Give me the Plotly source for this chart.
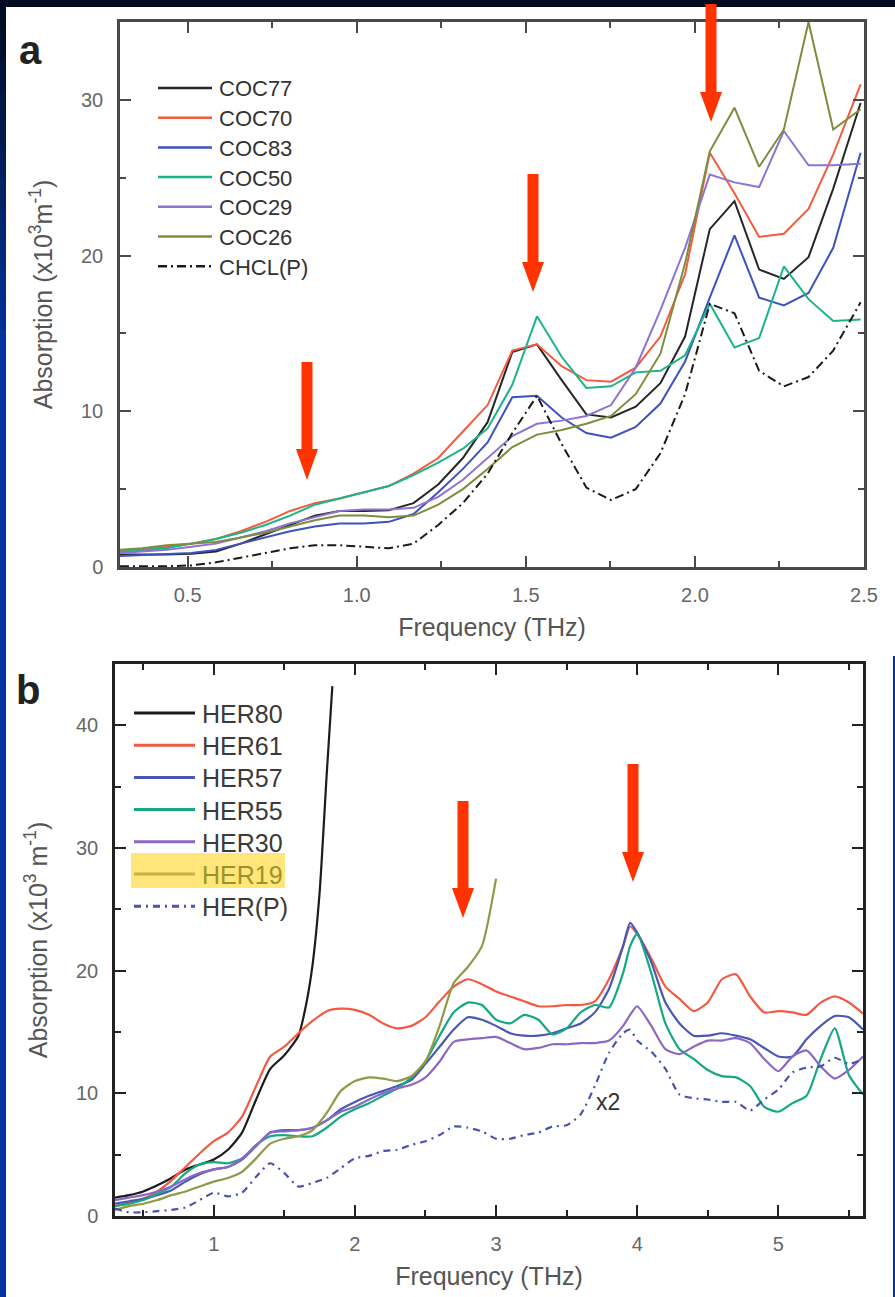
import plotly.graph_objects as go

W, H = 895, 1297

# ---------------- Panel a data ----------------
FREQ_A = [0.30, 0.365, 0.438, 0.511, 0.584, 0.657, 0.730, 0.803, 0.876, 0.949,
          1.022, 1.095, 1.168, 1.241, 1.314, 1.387, 1.460, 1.533, 1.606, 1.679,
          1.752, 1.825, 1.898, 1.971, 2.044, 2.117, 2.190, 2.263, 2.336, 2.409, 2.490]
COC77 = [0.8, 0.8, 0.8, 0.85, 1.0, 1.5, 2.1, 2.7, 3.3, 3.6,
         3.6, 3.65, 4.1, 5.3, 7.0, 9.3, 13.8, 14.3, 12.0, 9.8,
         9.6, 10.3, 11.8, 14.8, 21.7, 23.5, 19.1, 18.5, 19.9, 24.3, 29.8]
COC70 = [1.0, 1.1, 1.3, 1.5, 1.8, 2.3, 2.9, 3.6, 4.1, 4.4,
         4.8, 5.2, 6.0, 7.0, 8.7, 10.4, 13.9, 14.3, 12.9, 12.0,
         11.9, 12.8, 14.8, 18.8, 26.6, 24.0, 21.2, 21.4, 23.0, 26.5, 31.0]
COC83 = [0.7, 0.75, 0.8, 0.9, 1.1, 1.5, 1.9, 2.3, 2.6, 2.8,
         2.8, 2.9, 3.4, 4.8, 6.3, 8.0, 10.9, 11.0, 9.6, 8.6,
         8.3, 9.0, 10.5, 13.2, 17.3, 21.3, 17.3, 16.8, 17.6, 20.5, 26.6]
COC50 = [1.0, 1.1, 1.2, 1.5, 1.8, 2.2, 2.7, 3.3, 4.0, 4.4,
         4.8, 5.2, 5.9, 6.7, 7.6, 8.9, 11.7, 16.1, 13.5, 11.5,
         11.6, 12.5, 12.6, 13.6, 16.9, 14.1, 14.7, 19.3, 17.2, 15.8, 15.9]
COC29 = [0.9, 1.0, 1.1, 1.3, 1.5, 1.9, 2.3, 2.8, 3.2, 3.6,
         3.7, 3.7, 3.8, 4.5, 5.6, 7.0, 8.4, 9.2, 9.4, 9.7,
         10.4, 12.8, 16.5, 20.5, 25.2, 24.7, 24.4, 28.0, 25.8, 25.8, 25.9]
COC26 = [1.1, 1.2, 1.4, 1.5, 1.6, 1.9, 2.2, 2.6, 3.0, 3.3,
         3.3, 3.2, 3.3, 4.0, 5.0, 6.3, 7.7, 8.5, 8.8, 9.2,
         9.7, 11.1, 13.7, 19.5, 26.7, 29.5, 25.7, 28.1, 35.0, 28.1, 29.4]
CHCL_P = [0.05, 0.05, 0.05, 0.1, 0.3, 0.6, 0.9, 1.2, 1.4, 1.4,
          1.3, 1.2, 1.5, 2.7, 4.1, 6.0, 8.6, 11.0, 7.9, 5.1,
          4.3, 5.0, 7.3, 11.1, 16.9, 16.3, 12.6, 11.6, 12.2, 13.9, 17.0]

NAMES_A = ["COC77", "COC70", "COC83", "COC50", "COC29", "COC26", "CHCL(P)"]
VALUES_A = [COC77, COC70, COC83, COC50, COC29, COC26, CHCL_P]
COLORS_A = ["#262626", "#f45a3e", "#3d52bf", "#1db38a", "#8e72d4", "#7d8d3d", "#1a1a1a"]
DASH_A = ["solid"] * 6 + ["9px,4px,2px,4px"]

XTICKS_A = [0.5, 1.0, 1.5, 2.0, 2.5]
XTICKTEXT_A = ["0.5", "1.0", "1.5", "2.0", "2.5"]
YTICKS_A = [0, 10, 20, 30]

# ---------------- Panel b data ----------------
FREQ_B = [0.3, 0.4, 0.5, 0.6, 0.7, 0.8, 0.9, 1.0, 1.1, 1.2,
          1.3, 1.4, 1.5, 1.6, 1.7, 1.8, 1.9, 2.0, 2.1, 2.2,
          2.3, 2.4, 2.5, 2.6, 2.7, 2.8, 2.9, 3.0, 3.1, 3.2,
          3.3, 3.4, 3.5, 3.6, 3.7, 3.8, 3.9, 3.95, 4.0, 4.1,
          4.2, 4.3, 4.4, 4.5, 4.6, 4.7, 4.8, 4.9, 5.0, 5.1,
          5.2, 5.3, 5.4, 5.5, 5.6]
FREQ_H80 = [0.3, 0.4, 0.5, 0.6, 0.7, 0.8, 0.9, 1.0, 1.1, 1.2,
            1.3, 1.4, 1.5, 1.6, 1.65, 1.7, 1.75, 1.8, 1.84]
HER80 = [1.5, 1.7, 2.0, 2.5, 3.1, 3.8, 4.2, 4.6, 5.4, 6.8,
         9.5, 12.0, 13.1, 14.7, 17.0, 20.5, 26.4, 36.0, 43.2]
HER61 = [0.8, 1.1, 1.4, 2.0, 2.9, 4.0, 5.1, 6.1, 6.8, 8.1,
         10.6, 13.0, 13.8, 14.9, 15.9, 16.7, 16.9, 16.8, 16.4, 15.7,
         15.3, 15.5, 16.2, 17.5, 18.7, 19.3, 18.9, 18.3, 17.9, 17.5,
         17.1, 17.1, 17.2, 17.2, 17.5, 19.3, 22.0, 23.6, 23.0, 21.0,
         18.7, 17.7, 16.7, 17.4, 19.3, 19.7, 17.9, 16.6, 16.7, 16.6,
         16.4, 17.4, 17.9, 17.4, 16.5]
HER57 = [1.0, 1.2, 1.4, 1.7, 2.1, 2.8, 3.4, 3.8, 4.0, 4.6,
         5.7, 6.8, 7.0, 7.0, 7.2, 7.8, 8.7, 9.3, 9.8, 10.2,
         10.6, 11.1, 12.4, 13.8, 15.2, 16.2, 16.0, 15.5, 14.9, 14.7,
         14.7, 14.9, 15.3, 15.7, 16.6, 18.5, 22.0, 23.9, 23.1, 20.7,
         17.4, 15.7, 14.7, 14.7, 14.9, 14.7, 14.4, 13.7, 13.0, 13.0,
         14.4, 15.5, 16.3, 16.2, 15.2]
HER55 = [0.8, 1.0, 1.3, 1.8, 2.4, 3.5, 4.2, 4.4, 4.3, 4.7,
         5.8, 6.5, 6.6, 6.5, 6.5, 7.2, 8.1, 8.7, 9.2, 9.8,
         10.4, 11.3, 12.6, 14.7, 16.6, 17.4, 17.2, 16.0, 15.7, 16.4,
         16.0, 14.8, 15.3, 16.6, 17.2, 17.0, 19.8, 22.0, 23.0, 19.8,
         15.7, 13.6, 12.8, 11.9, 11.4, 11.3, 10.6, 8.9, 8.5, 9.2,
         9.8, 12.8, 15.3, 11.5, 9.9]
HER30 = [1.3, 1.5, 1.7, 2.0, 2.4, 3.0, 3.5, 3.8, 4.0, 4.7,
         5.7, 6.8, 6.9, 7.0, 7.2, 7.8, 8.5, 8.9, 9.5, 10.0,
         10.4, 10.7, 11.3, 12.6, 14.2, 14.4, 14.5, 14.6, 14.1, 13.6,
         13.7, 14.0, 14.0, 14.1, 14.1, 14.3, 15.5, 16.4, 17.1, 15.5,
         13.6, 13.2, 13.8, 14.3, 14.3, 14.5, 14.1, 12.8, 11.8, 13.0,
         13.5, 12.2, 11.2, 11.9, 13.0]
FREQ_H19 = [0.3, 0.4, 0.5, 0.6, 0.7, 0.8, 0.9, 1.0, 1.1, 1.2,
            1.3, 1.4, 1.5, 1.6, 1.7, 1.8, 1.9, 2.0, 2.1, 2.2,
            2.3, 2.4, 2.5, 2.6, 2.7, 2.8, 2.9, 3.0]
HER19 = [0.5, 0.8, 1.0, 1.3, 1.7, 2.0, 2.4, 2.8, 3.1, 3.6,
         4.7, 5.9, 6.3, 6.5, 7.0, 8.4, 10.2, 11.0, 11.3, 11.2,
         11.0, 11.4, 12.6, 15.5, 19.0, 20.3, 22.0, 27.5]
HER_P = [0.6, 0.3, 0.3, 0.4, 0.5, 0.7, 1.3, 1.9, 1.6, 1.9,
         3.2, 4.3, 3.5, 2.4, 2.7, 3.1, 3.9, 4.7, 4.9, 5.3,
         5.4, 5.8, 6.1, 6.6, 7.3, 7.2, 6.9, 6.3, 6.3, 6.6,
         6.8, 7.3, 7.4, 8.3, 10.6, 13.3, 14.9, 15.2, 14.3, 13.4,
         12.0, 9.9, 9.6, 9.5, 9.3, 9.3, 8.6, 9.5, 10.3, 11.7,
         12.1, 12.2, 12.9, 12.4, 12.8]

NAMES_B = ["HER80", "HER61", "HER57", "HER55", "HER30", "HER19", "HER(P)"]
XS_B = [FREQ_H80, FREQ_B, FREQ_B, FREQ_B, FREQ_B, FREQ_H19, FREQ_B]
VALUES_B = [HER80, HER61, HER57, HER55, HER30, HER19, HER_P]
COLORS_B = ["#1c1c1c", "#f25a44", "#4a57b5", "#14a883", "#8a68c4", "#8f9a48", "#4a52b0"]
DASH_B = ["solid"] * 6 + ["7px,5px,2px,5px"]

XTICKS_B = [1, 2, 3, 4, 5]
YTICKS_B = [0, 10, 20, 30, 40]

FONT = "Liberation Sans, Arial, sans-serif"


def px(x):
    return x / W


def py(y):
    return 1 - y / H


fig = go.Figure()

for name, vals, color, dash in zip(NAMES_A, VALUES_A, COLORS_A, DASH_A):
    fig.add_trace(go.Scatter(x=FREQ_A, y=vals, name=name, mode="lines",
                             line=dict(color=color, width=2, dash=dash),
                             xaxis="x", yaxis="y", showlegend=False))

for name, xs, vals, color, dash in zip(NAMES_B, XS_B, VALUES_B, COLORS_B, DASH_B):
    fig.add_trace(go.Scatter(x=xs, y=vals, name=name, mode="lines",
                             line=dict(color=color, width=2.2, dash=dash,
                                       shape="spline", smoothing=0.6),
                             xaxis="x2", yaxis="y2", showlegend=False))

shapes = []
annotations = []

# ---- background (dark navy frame with blue left edge) ----
steps = 12
for i in range(steps):
    t = i / (steps - 1)
    r = int(0 + t * 0)
    g = int(12 + t * (51 - 12))
    b = int(34 + t * (160 - 34))
    shapes.append(dict(type="rect", xref="paper", yref="paper", layer="below",
                       x0=0, x1=px(7), y0=py(i * 30 + 30), y1=py(i * 30),
                       fillcolor=f"rgb({r},{g},{b})", line=dict(width=0)))
shapes.append(dict(type="rect", xref="paper", yref="paper", layer="below",
                   x0=0, x1=px(7), y0=0, y1=py(steps * 30),
                   fillcolor="#0033a0", line=dict(width=0)))
shapes.append(dict(type="rect", xref="paper", yref="paper", layer="below",
                   x0=px(892), x1=1, y0=0, y1=py(656),
                   fillcolor="#0033a0", line=dict(width=0)))
# white panels
shapes.append(dict(type="rect", xref="paper", yref="paper", layer="below",
                   x0=px(6), x1=1, y0=py(656), y1=py(7),
                   fillcolor="white", line=dict(width=0)))
shapes.append(dict(type="rect", xref="paper", yref="paper", layer="below",
                   x0=px(6), x1=px(893), y0=0, y1=py(656),
                   fillcolor="white", line=dict(width=0)))


# ---- red arrows ----
def arrow(cx, top, neck, tip, sw=5.5, hw=11):
    pts = [(cx - sw, top), (cx + sw, top), (cx + sw, neck), (cx + hw, neck),
           (cx, tip), (cx - hw, neck), (cx - sw, neck)]
    path = "M " + " L ".join(f"{px(x):.5f},{py(y):.5f}" for x, y in pts) + " Z"
    return dict(type="path", xref="paper", yref="paper", path=path,
                fillcolor="#ff3300", line=dict(width=0), layer="above")


shapes += [arrow(307, 362, 449, 480), arrow(533, 174, 262, 292),
           arrow(711, 4, 92, 122), arrow(463, 801, 888, 918),
           arrow(633, 764, 852, 882)]

# ---- legends ----
for i, (name, color, dash) in enumerate(zip(NAMES_A, COLORS_A, DASH_A)):
    yy = 88 + i * 29.7
    shapes.append(dict(type="line", xref="paper", yref="paper",
                       x0=px(158), x1=px(212), y0=py(yy), y1=py(yy),
                       line=dict(color=color, width=2.5, dash=dash)))
    annotations.append(dict(xref="paper", yref="paper", x=px(217), y=py(yy + 1),
                            text=name, showarrow=False, xanchor="left", yanchor="middle",
                            font=dict(family=FONT, size=22, color="#333")))

# highlight behind HER19
shapes.append(dict(type="rect", xref="paper", yref="paper", layer="below",
                   x0=px(131), x1=px(285), y0=py(888), y1=py(853),
                   fillcolor="#ffe57a", line=dict(width=0)))
for i, (name, color, dash) in enumerate(zip(NAMES_B, COLORS_B, DASH_B)):
    yy = 713 + i * 32.2
    lc = "#c8b43c" if name == "HER19" else color
    tc = "#9a9428" if name == "HER19" else "#3a3a3a"
    shapes.append(dict(type="line", xref="paper", yref="paper",
                       x0=px(134), x1=px(195), y0=py(yy), y1=py(yy),
                       line=dict(color=lc, width=3, dash=dash)))
    annotations.append(dict(xref="paper", yref="paper", x=px(200), y=py(yy + 1),
                            text=name, showarrow=False, xanchor="left", yanchor="middle",
                            font=dict(family=FONT, size=25, color=tc)))

# panel letters
annotations.append(dict(xref="paper", yref="paper", x=px(30), y=py(50), text="<b>a</b>",
                        showarrow=False, xanchor="center", yanchor="middle",
                        font=dict(family=FONT, size=40, color="#222")))
annotations.append(dict(xref="paper", yref="paper", x=px(28), y=py(690), text="<b>b</b>",
                        showarrow=False, xanchor="center", yanchor="middle",
                        font=dict(family=FONT, size=40, color="#222")))
# x2 note
annotations.append(dict(xref="x2", yref="y2", x=3.79, y=9.3, text="x2", showarrow=False,
                        font=dict(family=FONT, size=23, color="#333")))

tickfont = dict(family=FONT, size=20, color="#666")
titlefont = dict(family=FONT, size=25, color="#555")


def xaxis_cfg(domain, anchor, rng, tickvals, ticktext, minor_vals, lc):
    return dict(domain=domain, anchor=anchor, range=rng, tickvals=tickvals, ticktext=ticktext,
                ticks="inside", ticklen=11, tickwidth=2, tickcolor=lc,
                showline=True, linecolor=lc, linewidth=2.5, mirror="allticks",
                minor=dict(tickvals=minor_vals, ticks="inside", ticklen=6, tickwidth=2, tickcolor=lc),
                showgrid=False, zeroline=False, tickfont=tickfont, ticklabelstandoff=8,
                title=dict(text="Frequency (THz)", font=titlefont, standoff=14),
                automargin=False, fixedrange=True)


def yaxis_cfg(domain, anchor, rng, tickvals, minor_vals, lc, title):
    return dict(domain=domain, anchor=anchor, range=rng, tickvals=tickvals,
                ticks="inside", ticklen=11, tickwidth=2, tickcolor=lc,
                showline=True, linecolor=lc, linewidth=2.5, mirror="allticks",
                minor=dict(tickvals=minor_vals, ticks="inside", ticklen=6, tickwidth=2, tickcolor=lc),
                showgrid=False, zeroline=False, tickfont=tickfont, ticklabelstandoff=10,
                title=dict(text=title, font=titlefont, standoff=22),
                automargin=False, fixedrange=True)


fig.update_layout(
    width=W, height=H, margin=dict(l=0, r=0, t=0, b=0),
    paper_bgcolor="#000b22", plot_bgcolor="white",
    showlegend=False,
    xaxis=xaxis_cfg([px(120), px(864)], "y", [0.3, 2.5], XTICKS_A, XTICKTEXT_A,
                    [0.75, 1.25, 1.75, 2.25], "#4a4a4a"),
    yaxis=yaxis_cfg([py(567), py(22)], "x", [0, 35], YTICKS_A, [5, 15, 25], "#4a4a4a",
                    "Absorption (x10<sup>3</sup>m<sup>-1</sup>)"),
    xaxis2=xaxis_cfg([px(115), px(863)], "y2", [0.3, 5.6], XTICKS_B,
                     [str(v) for v in XTICKS_B], [0.5, 1.5, 2.5, 3.5, 4.5, 5.5], "#222"),
    yaxis2=yaxis_cfg([py(1216), py(664)], "x2", [0, 45], YTICKS_B, [5, 15, 25, 35], "#222",
                     "Absorption (x10<sup>3</sup> m<sup>-1</sup>)"),
    shapes=shapes, annotations=annotations,
)

fig.write_html("out.html")
